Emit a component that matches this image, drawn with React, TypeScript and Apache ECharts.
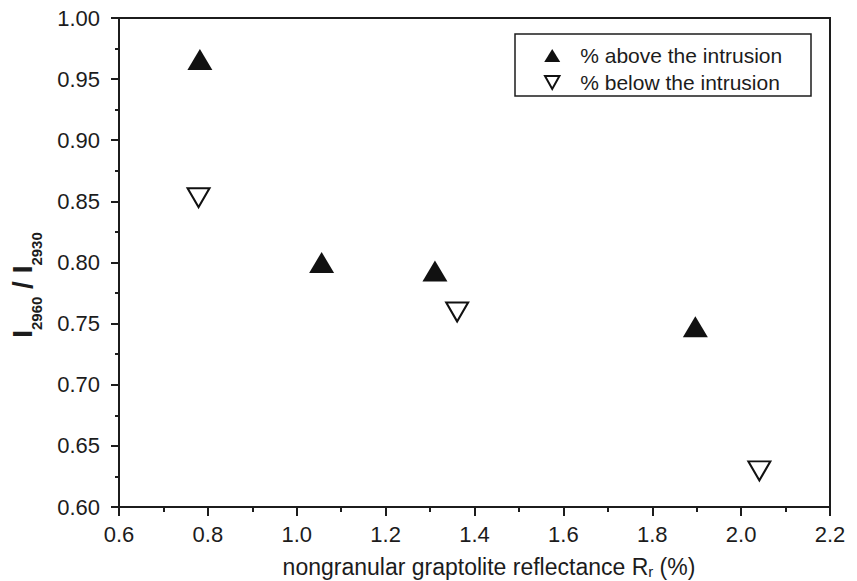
import React, { useEffect, useRef } from "react";
import * as echarts from "echarts";

const aboveX = [0.782, 1.056, 1.311, 1.897];
const aboveY = [0.966, 0.8, 0.793, 0.7475];
const belowX = [0.779, 1.361, 2.041];
const belowY = [0.853, 0.7595, 0.6295];
const seriesNames = ["% above the intrusion", "% below the intrusion"];
const xTitle = "nongranular graptolite reflectance R";
const xTitleSub = "r";
const xTitleTail = " (%)";
const yTitleParts = ["I", "2960", " / I", "2930"];

const FONT = '"Liberation Sans", Arial, Helvetica, sans-serif';
const INK = "#1c1c1c";
const DOWN_TRIANGLE = "path://M0,0 L20,0 L10,18 Z";

export default function App() {
  const ref = useRef<HTMLDivElement>(null);
  useEffect(() => {
    if (!ref.current) return;
    const chart = echarts.init(ref.current, undefined, { renderer: "svg" });
    const above = aboveX.map((x, i) => [x, aboveY[i]]);
    const below = belowX.map((x, i) => [x, belowY[i]]);
    chart.setOption({
      animation: false,
      backgroundColor: "#ffffff",
      textStyle: { fontFamily: FONT, color: INK },
      grid: {
        left: 119,
        top: 18,
        right: 27,
        bottom: 74,
        show: true,
        borderColor: INK,
        borderWidth: 2,
        backgroundColor: "transparent",
      },
      xAxis: {
        type: "value",
        min: 0.6,
        max: 2.2,
        interval: 0.2,
        axisLine: { onZero: false, lineStyle: { color: INK, width: 2 } },
        axisTick: { length: 9, lineStyle: { color: INK, width: 2 } },
        minorTick: { show: true, splitNumber: 2, length: 5, lineStyle: { color: INK, width: 2 } },
        splitLine: { show: false },
        axisLabel: {
          margin: 16,
          fontSize: 22,
          color: INK,
          fontFamily: FONT,
          formatter: (v: number) => v.toFixed(1),
        },
      },
      yAxis: {
        type: "value",
        min: 0.6,
        max: 1.0,
        interval: 0.05,
        axisLine: { onZero: false, lineStyle: { color: INK, width: 2 } },
        axisTick: { length: 8, lineStyle: { color: INK, width: 2 } },
        minorTick: { show: true, splitNumber: 2, length: 4, lineStyle: { color: INK, width: 2 } },
        splitLine: { show: false },
        axisLabel: {
          margin: 19,
          fontSize: 22,
          color: INK,
          fontFamily: FONT,
          formatter: (v: number) => v.toFixed(2),
        },
      },
      legend: {
        orient: "vertical",
        left: 539,
        top: 40,
        itemWidth: 16,
        itemHeight: 13,
        itemGap: 6,
        selectedMode: false,
        textStyle: {
          fontSize: 21,
          lineHeight: 21,
          color: INK,
          fontFamily: FONT,
          padding: [0, 0, 0, 15],
        },
        data: [
          { name: seriesNames[0], icon: "triangle" },
          { name: seriesNames[1], icon: DOWN_TRIANGLE },
        ],
      },
      graphic: [
        {
          type: "rect",
          shape: { x: 515, y: 34, width: 296, height: 62 },
          style: { fill: "none", stroke: INK, lineWidth: 1.5 },
          silent: true,
        },
        {
          type: "text",
          x: 489,
          y: 567,
          style: {
            text: `{a|${xTitle}}{s|${xTitleSub}}{a|${xTitleTail}}`,
            align: "center",
            verticalAlign: "middle",
            fill: INK,
            rich: {
              a: { fontSize: 23, lineHeight: 24, verticalAlign: "top", fontFamily: FONT, fill: INK },
              s: { fontSize: 15, lineHeight: 14, verticalAlign: "bottom", fontFamily: FONT, fill: INK },
            },
          },
          silent: true,
        },
        {
          type: "text",
          x: 26,
          y: 285,
          rotation: Math.PI / 2,
          style: {
            text: `{b|${yTitleParts[0]}}{s|${yTitleParts[1]}}{b|${yTitleParts[2]}}{s|${yTitleParts[3]}}`,
            align: "center",
            verticalAlign: "middle",
            fill: INK,
            rich: {
              b: { fontSize: 28, lineHeight: 36, verticalAlign: "top", fontWeight: "bold", fontFamily: FONT, fill: INK },
              s: { fontSize: 15, lineHeight: 15, verticalAlign: "bottom", fontWeight: "bold", fontFamily: FONT, fill: INK },
            },
          },
          silent: true,
        },
      ],
      series: [
        {
          name: seriesNames[0],
          type: "scatter",
          symbol: "triangle",
          symbolSize: [25, 21],
          itemStyle: { color: "#111111", borderColor: "#111111", borderWidth: 0, opacity: 1 },
          data: above,
          z: 3,
        },
        {
          name: seriesNames[1],
          type: "scatter",
          symbol: "triangle",
          symbolRotate: 180,
          symbolSize: [22, 19],
          itemStyle: { color: "#ffffff", borderColor: "#111111", borderWidth: 2, opacity: 1 },
          data: below,
          z: 3,
        },
      ],
    });
    return () => chart.dispose();
  }, []);
  return (
    <div
      ref={ref}
      style={{ position: "absolute", left: 0, top: 0, width: 857, height: 581 }}
    />
  );
}
